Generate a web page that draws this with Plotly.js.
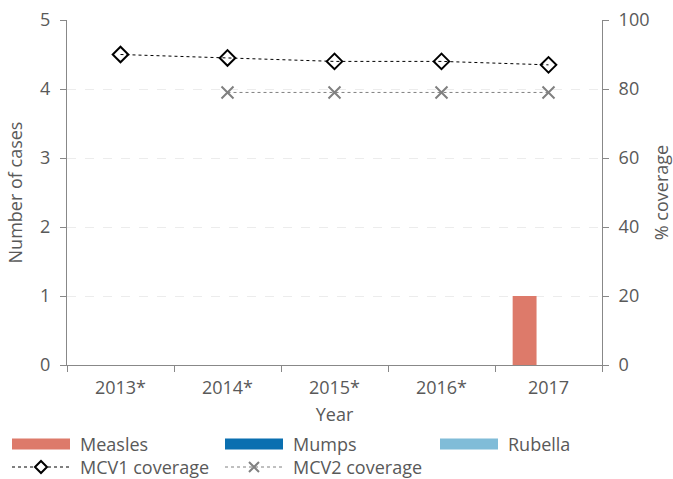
<!DOCTYPE html>
<html><head><meta charset="utf-8">
<script src="https://cdn.plot.ly/plotly-3.0.1.min.js"></script>
<style>html,body{margin:0;padding:0;background:#fff}#c{width:673px;height:479px}</style>
</head><body><div id="c"></div>
<script>
var years = ["2013*","2014*","2015*","2016*","2017"];
var measles = [0,0,0,0,1];
var mumps = [0,0,0,0,0];
var rubella = [0,0,0,0,0];
var mcv1 = [90,89,88,88,87];
var mcv2 = [null,79,79,79,79];
var seriesNames = ["Measles","Mumps","Rubella","MCV1 coverage","MCV2 coverage"];
var seriesColors = ["#DD7A6A","#0A6FB0","#80BCD8","#000000","#808080"];

var font = {family:"Open Sans, Noto Sans, sans-serif", size:18, color:"#595959"};
var traces = [
 {type:"bar", name:seriesNames[0], x:years, y:measles, marker:{color:seriesColors[0]}},
 {type:"bar", name:seriesNames[1], x:years, y:mumps, marker:{color:seriesColors[1]}},
 {type:"bar", name:seriesNames[2], x:years, y:rubella, marker:{color:seriesColors[2]}},
 {type:"scatter", mode:"lines+markers", name:seriesNames[3], x:years, y:mcv1, yaxis:"y2",
  line:{color:seriesColors[3], width:1, dash:"dot"}, marker:{symbol:"diamond-open", size:12, color:seriesColors[3], line:{width:2, color:seriesColors[3]}}},
 {type:"scatter", mode:"lines+markers", name:seriesNames[4], x:years, y:mcv2, yaxis:"y2",
  line:{color:seriesColors[4], width:1, dash:"dot"}, marker:{symbol:"x-thin-open", size:12, color:seriesColors[4], line:{width:2, color:seriesColors[4]}}}
];

// custom legend (paper coords: x=(px-67)/535, y=(365-py)/345)
function px(x){return (x-67)/535;}
function py(y){return (365-y)/345;}
var shapes = [], annotations = [];
var slots = [[12,444],[225,444],[440,444],[12,467],[225,467]];
for (var i=0;i<5;i++){
  var sx=slots[i][0], sy=slots[i][1];
  if (i<3){
    shapes.push({type:"rect", xref:"paper", yref:"paper", x0:px(sx), x1:px(sx+58), y0:py(sy+5.5), y1:py(sy-5.5),
      fillcolor:seriesColors[i], line:{width:0}});
  } else {
    shapes.push({type:"line", xref:"paper", yref:"paper", x0:px(sx), x1:px(sx+58), y0:py(sy), y1:py(sy),
      line:{color:seriesColors[i], width:1, dash:"dot"}});
    var path = i===3 ? "M-6,0L0,6L6,0L0,-6Z" : "M-5,-5L5,5M-5,5L5,-5";
    shapes.push({type:"path", xref:"paper", yref:"paper", xsizemode:"pixel", ysizemode:"pixel",
      xanchor:px(sx+29), yanchor:py(sy), path:path, fillcolor: i===3 ? "#fff" : "rgba(0,0,0,0)",
      line:{color:seriesColors[i], width:2}});
  }
  annotations.push({xref:"paper", yref:"paper", x:px(sx+66), y:py(sy), xanchor:"left", yanchor:"middle",
    text:seriesNames[i], showarrow:false, font:font});
}

var layout = {
 width:673, height:479, font:font, paper_bgcolor:"#fff", plot_bgcolor:"#fff",
 margin:{l:67, r:71, t:20, b:114},
 barmode:"group", bargap:0.33, showlegend:false,
 shapes:shapes, annotations:annotations,
 xaxis:{type:"category", tickson:"boundaries", ticks:"outside", ticklen:6, tickcolor:"#888",
   showline:true, linecolor:"#888", linewidth:1, showgrid:false, tickfont:font, ticklabelstandoff:6,
   title:{text:"Year", font:font, standoff:10}},
 yaxis:{range:[0,5], dtick:1, ticks:"outside", ticklen:6, tickcolor:"#888", showline:true, linecolor:"#888",
   gridcolor:"#ececec", griddash:"dash", zeroline:false, tickfont:font, ticklabelstandoff:6,
   title:{text:"Number of cases", font:font, standoff:12}},
 yaxis2:{range:[0,100], dtick:20, overlaying:"y", side:"right", ticks:"outside", ticklen:6, tickcolor:"#888",
   showline:true, linecolor:"#888", showgrid:false, zeroline:false, tickfont:font, ticklabelstandoff:6,
   title:{text:"% coverage", font:font, standoff:10}}
};
Plotly.newPlot("c", traces, layout, {displayModeBar:false});
</script></body></html>
